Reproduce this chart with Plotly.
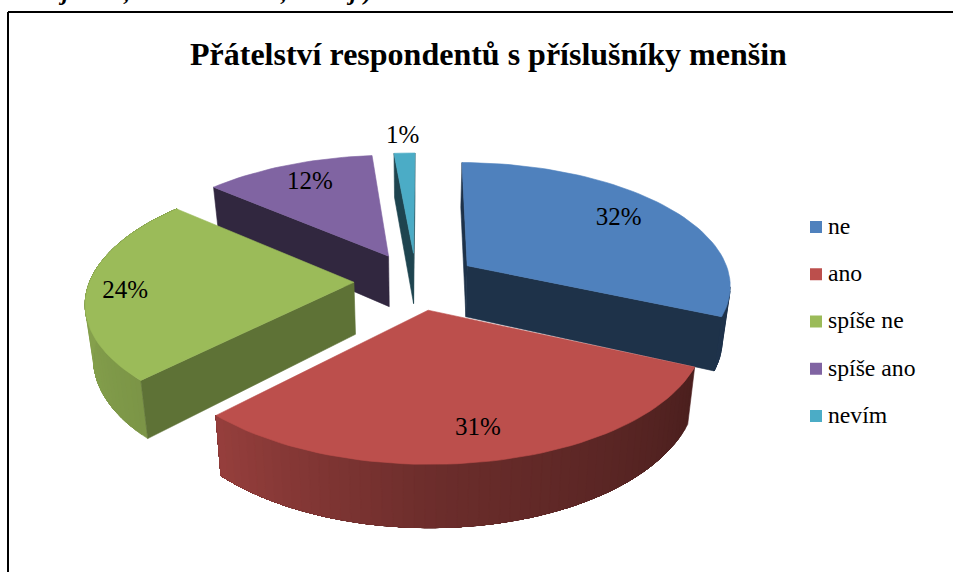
import numpy as np
import plotly.graph_objects as go

# ---- data -------------------------------------------------------------
categories = ["ne", "ano", "spíše ne", "spíše ano", "nevím"]
percent = [31.5, 30.51, 24.0, 12.2, 1.49]
top_colors = ["#4F81BD", "#BC4F4C", "#9BBB59", "#8064A2", "#4BACC6"]
chart_title = "Přátelství respondentů s příslušníky menšin"
clipped_glyphs = ["j", ",", ",", "j", ")"]

# ---- view parameters of the 3-D pie ------------------------------------
W, H = 953, 572
CX, CY, RX, RY = 416, 281, 264, 122.3
PERSP = 0.1455
EXPLODE = 0.235
DEPTH = 52
TAPER = 0.025
START = 0.3
LABEL_R = [0.75, 0.82, 0.86, 0.76, 1.25]
LABEL_DY = [-2, -1, 5, -2, 5]
FACE_SHADE = [0.39, 0.40, 0.61, 0.39, 0.40]
PAINT_ORDER = [3, 4, 0, 2, 1]
LEG_X, LEG_TEXT_X, LEG_Y0, LEG_DY = 816, 828, 227, 47.25
GLYPH_X = [63, 126, 283, 351, 367]
FONT = "Liberation Serif"


def project(u, v, drop=0.0):
    s = 1 / (1 + PERSP * np.asarray(v))
    x = CX + RX * np.asarray(u) * s
    if drop:
        x = CX + (x - CX) * (1 - TAPER)
    return x, CY - RY * np.asarray(v) * s + drop * s


def hex_scale(c, f):
    r, g, b = int(c[1:3], 16), int(c[3:5], 16), int(c[5:7], 16)
    return "#%02X%02X%02X" % (int(r * f), int(g * f), int(b * f))


def shade(theta):
    return float(np.interp(theta % 360, [115, 180, 224, 270], [0.40, 0.58, 0.80, 0.88]))


def poly(xs, ys, color):
    return go.Scatter(x=list(xs), y=list(ys), mode="lines", fill="toself",
                      fillcolor=color, line=dict(color=color, width=0.6),
                      hoverinfo="skip", showlegend=False)


def above_edge(p, q, interior):
    """True if the interior point sits above the edge p-q on screen."""
    if abs(q[0] - p[0]) < 1e-6:
        return False
    yl = p[1] + (q[1] - p[1]) * (interior[0] - p[0]) / (q[0] - p[0])
    return interior[1] < yl


fig = go.Figure()
total = sum(percent)
edges = START + np.cumsum([0] + percent) * 360.0 / total
label_x, label_y = [], []

for i in PAINT_ORDER:
    a0, a1 = edges[i], edges[i + 1]
    mid = np.radians((a0 + a1) / 2)
    ou, ov = EXPLODE * np.sin(mid), EXPLODE * np.cos(mid)
    th = np.linspace(a0, a1, max(int((a1 - a0) / 2.0) + 2, 3))
    u = ou + np.sin(np.radians(th))
    v = ov + np.cos(np.radians(th))
    xt, yt = project(u, v)
    xb, yb = project(u, v, DEPTH)
    ax, ay = project(ou, ov)
    axb, ayb = project(ou, ov, DEPTH)
    imx, imy = project(ou + 0.6 * np.sin(mid), ov + 0.6 * np.cos(mid))
    top_col = top_colors[i]

    # outer curved wall: each strip runs on to the far end, the next one overpaints it
    for k in range(len(th) - 1):
        if above_edge((xt[k], yt[k]), (xt[k + 1], yt[k + 1]), (ax, ay)):
            col = hex_scale(top_col, shade((th[k] + th[k + 1]) / 2))
            rx = list(xt[k:]) + list(xb[k:][::-1]) + [xt[k]]
            ry = list(yt[k:]) + list(yb[k:][::-1]) + [yt[k]]
            fig.add_trace(poly(rx, ry, col))
    # radial cut faces
    for j in (0, -1):
        if above_edge((ax, ay), (xt[j], yt[j]), (imx, imy)):
            fig.add_trace(poly([ax, xt[j], xb[j], axb, ax],
                               [ay, yt[j], yb[j], ayb, ay],
                               hex_scale(top_col, FACE_SHADE[i])))
    # top face
    fig.add_trace(poly([ax, *xt, ax], [ay, *yt, ay], top_col))

    lx, ly = project(ou + LABEL_R[i] * np.sin(mid), ov + LABEL_R[i] * np.cos(mid))
    label_x.append(float(lx))
    label_y.append(float(ly) + LABEL_DY[i])

# data labels
order_lab = [f"{int(percent[i] + 0.5)}%" for i in PAINT_ORDER]
fig.add_trace(go.Scatter(x=label_x, y=label_y, mode="text", text=order_lab,
                         textposition="middle center",
                         textfont=dict(family=FONT, size=25, color="#000000"),
                         hoverinfo="skip", showlegend=False))

# legend
leg_y = [LEG_Y0 + LEG_DY * i for i in range(len(categories))]
fig.add_trace(go.Scatter(x=[LEG_X] * len(categories), y=leg_y, mode="markers",
                         marker=dict(symbol="square", size=12, color=top_colors),
                         hoverinfo="skip", showlegend=False))
fig.add_trace(go.Scatter(x=[LEG_TEXT_X] * len(categories), y=[y + 1 for y in leg_y], mode="text",
                         text=categories, textposition="middle right",
                         textfont=dict(family=FONT, size=23.7, color="#000000"),
                         hoverinfo="skip", showlegend=False))

# cut-off line of the surrounding document
annos = [dict(xref="x", yref="paper", x=gx, y=1, yanchor="bottom", yshift=-7,
              text=g, showarrow=False,
              font=dict(family=FONT, size=24, color="#000000", weight="bold", style="italic"))
         for g, gx in zip(clipped_glyphs, GLYPH_X)]
annos.append(dict(xref="x", yref="y", x=488.5, y=53.5, text=f"<b>{chart_title}</b>",
                  showarrow=False, font=dict(family=FONT, size=32, color="#000000")))

fig.update_layout(
    width=W, height=H, margin=dict(l=0, r=0, t=0, b=0),
    paper_bgcolor="#FFFFFF", plot_bgcolor="#FFFFFF", showlegend=False,
    xaxis=dict(range=[0, W], visible=False, fixedrange=True),
    yaxis=dict(range=[H, 0], visible=False, fixedrange=True),
    annotations=annos,
    shapes=[dict(type="line", x0=8, x1=W, y0=12, y1=12, line=dict(color="#000000", width=2)),
            dict(type="line", x0=8, x1=8, y0=12, y1=H, line=dict(color="#000000", width=2))],
)
fig.write_html("out.html", config=dict(displayModeBar=False),
               post_script="document.body.style.margin='0';document.body.style.overflow='hidden';")
